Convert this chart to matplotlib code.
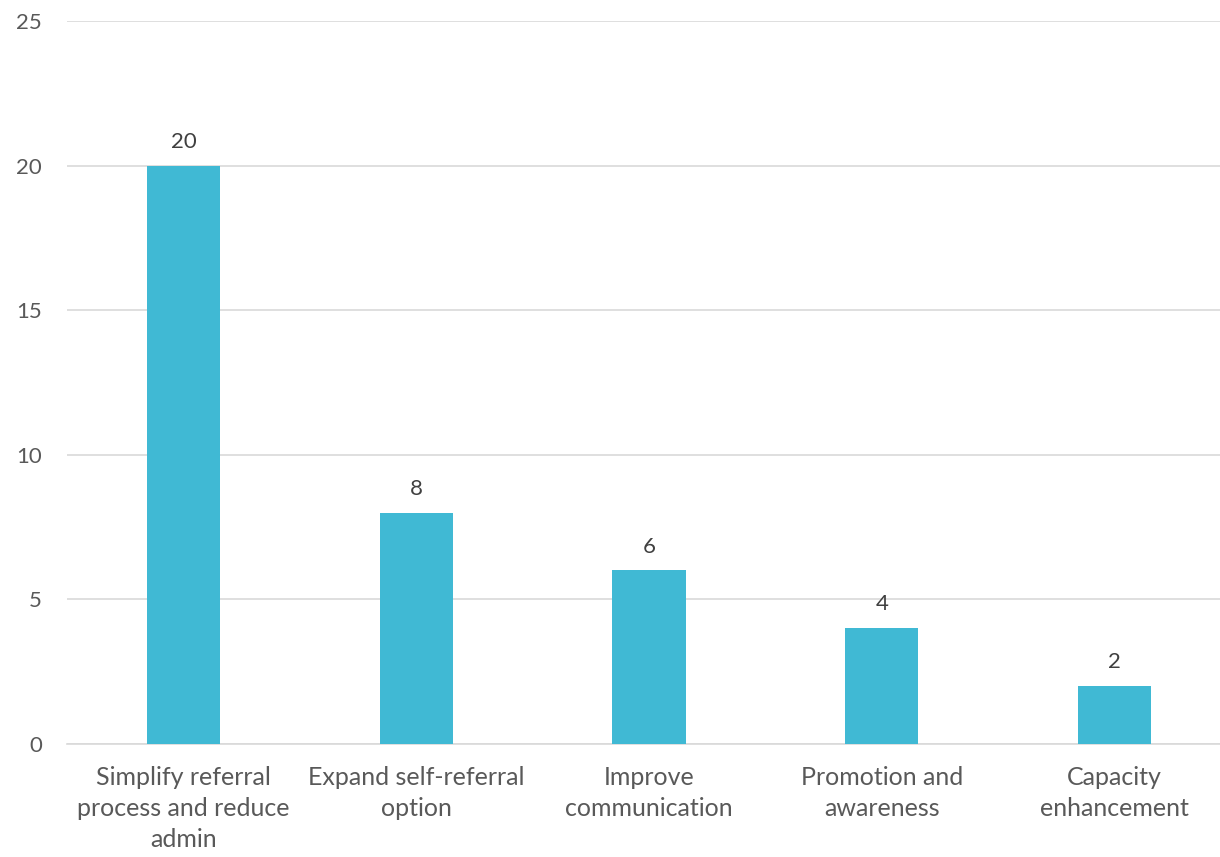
import numpy as np
import matplotlib
matplotlib.use("Agg")
import matplotlib.pyplot as plt

categories = ["Simplify referral\nprocess and reduce\nadmin",
              "Expand self-referral\noption",
              "Improve\ncommunication",
              "Promotion and\nawareness",
              "Capacity\nenhancement"]
counts = [20, 8, 6, 4, 2]
yticks = [0, 5, 10, 15, 20, 25]

plt.rcParams['font.family'] = ['Lato', 'DejaVu Sans']

fig = plt.figure(figsize=(12.2, 8.57), dpi=100)
ax = fig.add_axes([67 / 1220, 1 - 744 / 857, 1164 / 1220, (744 - 21) / 857])

x = np.arange(len(categories))
bars = ax.bar(x, counts, width=0.314, color="#40B9D4", zorder=3)
for xi, v in zip(x, counts):
    ax.annotate(str(v), (xi, v), xytext=(0, 10), textcoords="offset points",
                ha="center", va="bottom", fontsize=16, color="#404040")

ax.set_xlim(-0.5, len(categories) - 0.5)
ax.set_ylim(0, 25)
ax.set_yticks(yticks)
ax.set_xticks(x)
ax.set_xticklabels(categories, fontsize=18, color="#595959", linespacing=1.42)
ax.tick_params(axis="y", length=0, pad=18, labelsize=16, labelcolor="#595959")
ax.tick_params(axis="x", length=0, pad=16)
ax.grid(axis="y", color="#d9d9d9", linewidth=1.2, zorder=0)
for s in ["top", "right", "left"]:
    ax.spines[s].set_visible(False)
ax.spines["bottom"].set_color("#d9d9d9")
ax.spines["bottom"].set_linewidth(1.2)

fig.savefig("out.png", dpi=100)
